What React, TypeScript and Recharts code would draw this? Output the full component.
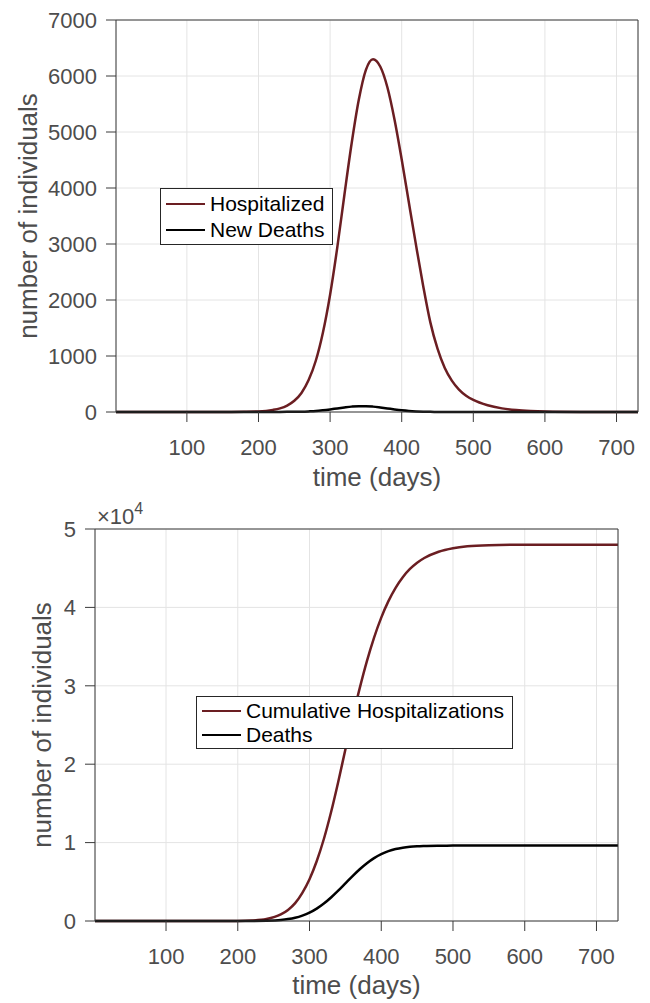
import { LineChart, Line, XAxis, YAxis, CartesianGrid, Legend } from "recharts";

// ---- data -------------------------------------------------------------------

const topDays = [
  1, 50, 100, 150, 180, 200, 220, 230, 240, 250, 260, 270, 280, 290, 300, 310, 320, 330, 340, 350,
  360, 370, 380, 390, 400, 410, 420, 430, 440, 450, 460, 470, 480, 490, 500, 520, 540, 560, 580,
  600, 650, 700, 730,
];
const hospitalized = [
  0, 0, 0, 1, 4, 10, 37, 65, 115, 200, 340, 570, 915, 1420, 2095, 2935, 3880, 4790, 5570, 6110,
  6300, 6170, 5800, 5220, 4510, 3740, 2980, 2250, 1600, 1130, 790, 560, 400, 290, 215, 120, 65, 34,
  17, 8, 1, 0, 0,
];
const newDeaths = [
  0, 0, 0, 0, 0, 0.3, 1, 1.5, 2.5, 4, 6, 10.5, 17, 30, 46, 64, 81, 96, 104, 104,
  96, 81, 64, 46, 30, 18, 10.5, 6, 3, 1.5, 0.8, 0, 0, 0, 0, 0, 0, 0, 0,
  0, 0, 0, 0,
];

const bottomDays = [
  1, 50, 100, 150, 200, 220, 240, 260, 270, 280, 290, 300, 310, 320, 330, 340, 350, 360, 370, 380,
  390, 400, 410, 420, 430, 440, 450, 460, 480, 500, 520, 550, 600, 650, 700, 730,
];
const cumHospitalizations = [
  0, 0, 0, 2, 14, 65, 250, 835, 1410, 2280, 3600, 5330, 7620, 10460, 13870, 17740, 21870, 25900,
  29700, 33150, 36150, 38700, 40800, 42500, 43850, 44900, 45700, 46300, 47100, 47550, 47800, 47940,
  47995, 48000, 48000, 48000,
];
const cumDeaths = [
  0, 0, 0, 0, 1, 7, 35, 133, 246, 419, 692, 1066, 1580, 2230, 3000, 3875, 4800, 5725, 6600, 7370,
  8020, 8530, 8908, 9180, 9355, 9466, 9530, 9565, 9600, 9615, 9620, 9620, 9620, 9620, 9620, 9620,
];

const xTicks = [100, 200, 300, 400, 500, 600, 700];
const yTicksTop = [0, 1000, 2000, 3000, 4000, 5000, 6000, 7000];
const yTicksBottom = [0, 10000, 20000, 30000, 40000, 50000];

const topData = topDays.map((d, i) => ({ day: d, hosp: hospitalized[i], deaths: newDeaths[i] }));
const bottomData = bottomDays.map((d, i) => ({
  day: d,
  cumHosp: cumHospitalizations[i],
  deaths: cumDeaths[i],
}));

// ---- style ------------------------------------------------------------------

const RED = "#6b1e22";
const AXIS = "#3a3a3a";
const TICK = "#4d4d4d";
const GRID = "#e4e4e4";
const FONT = "'Liberation Sans', Arial, Helvetica, sans-serif";
const tickStyle = { fill: TICK, fontSize: 22, fontFamily: FONT };

function LegendBox({ payload, rowH, lineW }: { payload?: any[]; rowH: number; lineW: number }) {
  return (
    <div
      style={{
        background: "#fff",
        border: "1px solid #262626",
        padding: "2px 8px 1px 5px",
        fontFamily: FONT,
        fontSize: 21,
        color: "#000",
        whiteSpace: "nowrap",
      }}
    >
      {(payload || []).map((p: any) => (
        <div key={p.value} style={{ display: "flex", alignItems: "center", height: rowH }}>
          <span
            style={{ display: "inline-block", width: lineW, height: 2.5, background: p.color, marginRight: 5 }}
          />
          {p.value}
        </div>
      ))}
    </div>
  );
}

const yTitle = (x: number) => (props: any) => {
  const vb = props.viewBox || {};
  const cy = vb.y + vb.height / 2;
  return (
    <text
      x={x}
      y={cy}
      transform={`rotate(-90, ${x}, ${cy})`}
      textAnchor="middle"
      fill={TICK}
      fontSize={26}
      fontFamily={FONT}
    >
      number of individuals
    </text>
  );
};

const xTitle = (y: number) => (props: any) => {
  const vb = props.viewBox || {};
  return (
    <text x={vb.x + vb.width / 2} y={y} textAnchor="middle" fill={TICK} fontSize={26} fontFamily={FONT}>
      time (days)
    </text>
  );
};

// "x10^4" multiplier over the top-left corner of the bottom axes
const exponent = () => (
  <text x={97} y={44} fill={TICK} fontSize={22} fontFamily={FONT}>
    ×10
    <tspan fontSize={16} dy={-10}>
      4
    </tspan>
  </text>
);

// ---- top: hospitalized / new deaths ----------------------------------------

function TopChart() {
  return (
    <LineChart width={650} height={500} data={topData} margin={{ top: 10, right: 1, left: 0, bottom: 8 }}>
      <CartesianGrid xAxisId="b" yAxisId="l" stroke={GRID} />
      <XAxis
        xAxisId="b"
        dataKey="day"
        type="number"
        domain={[1, 730]}
        ticks={xTicks}
        height={80}
        tickSize={10}
        tickMargin={17}
        tick={tickStyle}
        stroke={AXIS}
        label={xTitle(486)}
      />
      <XAxis
        xAxisId="t"
        orientation="top"
        type="number"
        domain={[1, 730]}
        allowDataOverflow
        ticks={xTicks}
        height={10}
        tickSize={10}
        tick={false}
        stroke={AXIS}
      />
      <YAxis
        yAxisId="l"
        type="number"
        domain={[0, 7000]}
        ticks={yTicksTop}
        width={116}
        tickSize={10}
        tickMargin={9}
        tick={tickStyle}
        stroke={AXIS}
        label={yTitle(37)}
      />
      <YAxis
        yAxisId="r"
        orientation="right"
        type="number"
        domain={[0, 7000]}
        allowDataOverflow
        ticks={yTicksTop}
        width={11}
        tickSize={10}
        tick={false}
        stroke={AXIS}
      />
      <Legend
        layout="vertical"
        align="center"
        verticalAlign="middle"
        wrapperStyle={{ left: 160, top: 188, width: "auto", height: "auto" }}
        content={(p: any) => <LegendBox payload={p.payload} rowH={26} lineW={39} />}
      />
      <Line
        xAxisId="b"
        yAxisId="l"
        type="monotone"
        dataKey="hosp"
        name="Hospitalized"
        stroke={RED}
        strokeWidth={2.5}
        dot={false}
        activeDot={false}
        isAnimationActive={false}
      />
      <Line
        xAxisId="b"
        yAxisId="l"
        type="monotone"
        dataKey="deaths"
        name="New Deaths"
        stroke="#000"
        strokeWidth={2.5}
        dot={false}
        activeDot={false}
        isAnimationActive={false}
      />
    </LineChart>
  );
}

// ---- bottom: cumulative ------------------------------------------------------

function BottomChart() {
  return (
    <LineChart width={650} height={523} data={bottomData} margin={{ top: 39, right: 21, left: 0, bottom: 8 }}>
      <CartesianGrid xAxisId="b" yAxisId="l" stroke={GRID} />
      <XAxis
        xAxisId="b"
        dataKey="day"
        type="number"
        domain={[1, 730]}
        ticks={xTicks}
        height={74}
        tickSize={10}
        tickMargin={17}
        tick={tickStyle}
        stroke={AXIS}
        label={xTitle(514)}
      />
      <XAxis
        xAxisId="t"
        orientation="top"
        type="number"
        domain={[1, 730]}
        allowDataOverflow
        ticks={xTicks}
        height={10}
        tickSize={10}
        tick={false}
        stroke={AXIS}
        label={exponent}
      />
      <YAxis
        yAxisId="l"
        type="number"
        domain={[0, 50000]}
        ticks={yTicksBottom}
        tickFormatter={(v: number) => String(v / 10000)}
        width={95}
        tickSize={10}
        tickMargin={9}
        tick={tickStyle}
        stroke={AXIS}
        label={yTitle(51)}
      />
      <YAxis
        yAxisId="r"
        orientation="right"
        type="number"
        domain={[0, 50000]}
        allowDataOverflow
        ticks={yTicksBottom}
        width={11}
        tickSize={10}
        tick={false}
        stroke={AXIS}
      />
      <Legend
        layout="vertical"
        align="center"
        verticalAlign="middle"
        wrapperStyle={{ left: 196, top: 216, width: "auto", height: "auto" }}
        content={(p: any) => <LegendBox payload={p.payload} rowH={24} lineW={39} />}
      />
      <Line
        xAxisId="b"
        yAxisId="l"
        type="monotone"
        dataKey="cumHosp"
        name="Cumulative Hospitalizations"
        stroke={RED}
        strokeWidth={2.5}
        dot={false}
        activeDot={false}
        isAnimationActive={false}
      />
      <Line
        xAxisId="b"
        yAxisId="l"
        type="monotone"
        dataKey="deaths"
        name="Deaths"
        stroke="#000"
        strokeWidth={2.5}
        dot={false}
        activeDot={false}
        isAnimationActive={false}
      />
    </LineChart>
  );
}

export default function App() {
  return (
    <div style={{ position: "absolute", left: 0, top: 0, width: 650, height: 1003, background: "#fff" }}>
      <div style={{ position: "absolute", left: 0, top: 0 }}>
        <TopChart />
      </div>
      <div style={{ position: "absolute", left: 0, top: 480 }}>
        <BottomChart />
      </div>
    </div>
  );
}
